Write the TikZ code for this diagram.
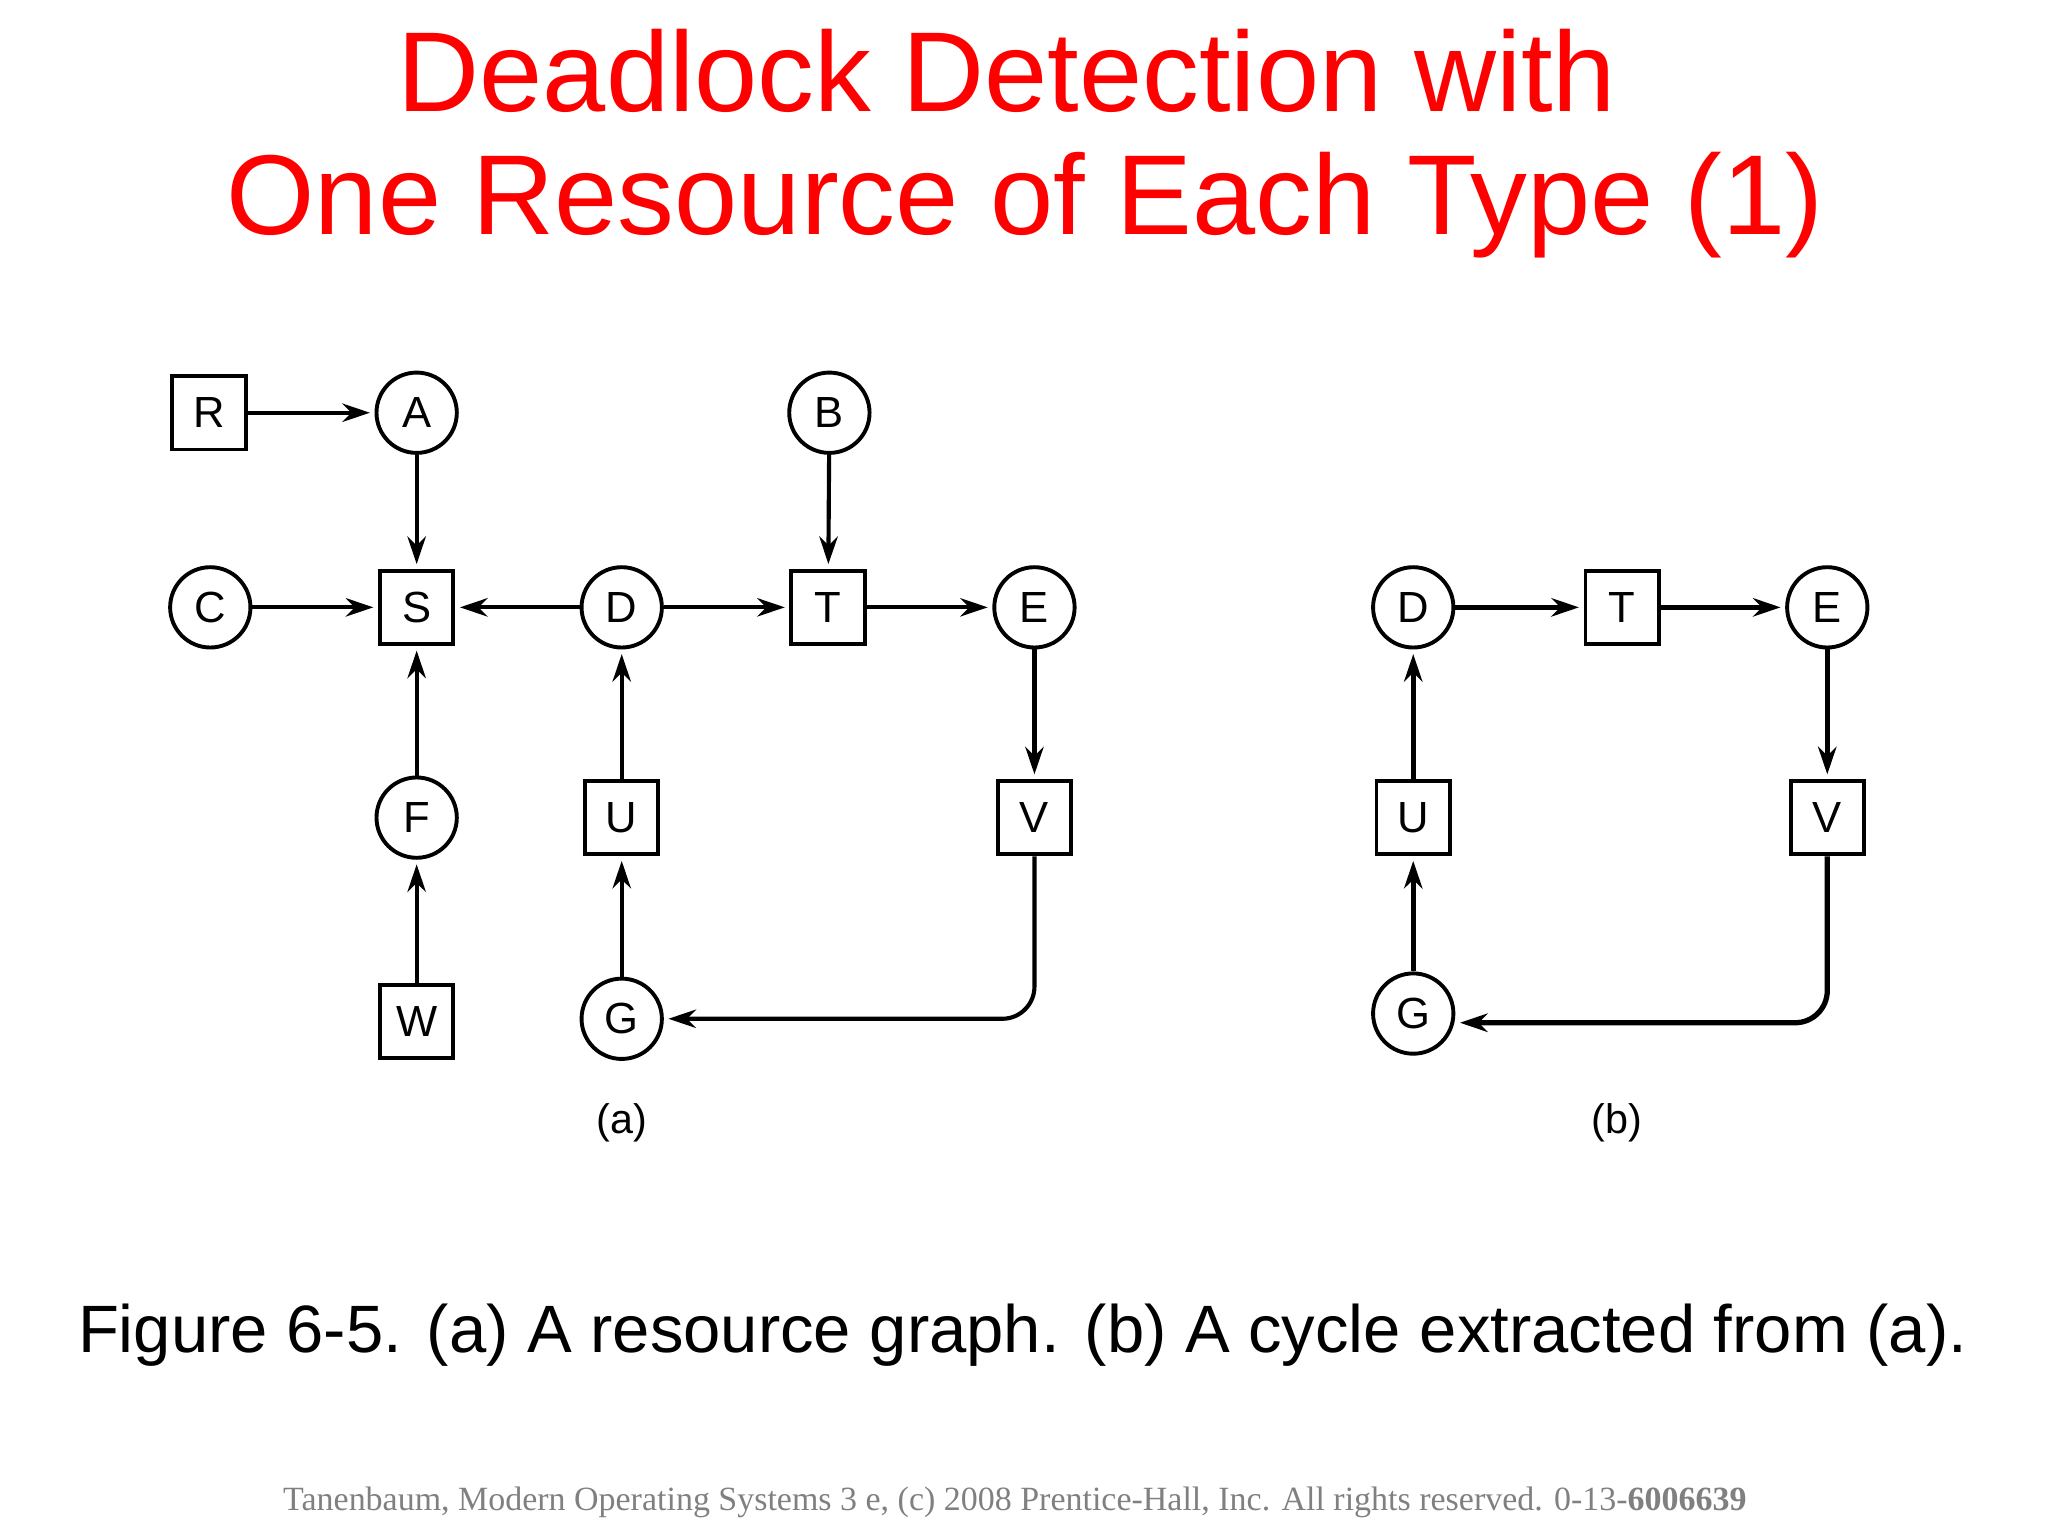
\documentclass[tikz,border=0pt]{standalone}
\usepackage{fontspec}
\setmainfont{Liberation Sans}
\newfontfamily\tnr{Liberation Serif}
\usetikzlibrary{arrows.meta}
\begin{document}
\begin{tikzpicture}[x=0.02cm,y=-0.02cm,
 proc/.style={circle,draw,line width=1.7pt,minimum size=35pt,inner sep=0pt,font=\fontsize{19}{20}\selectfont},
 res/.style={rectangle,draw,line width=1.7pt,minimum size=32pt,inner sep=0pt,font=\fontsize{19}{20}\selectfont},
 e/.style={line width=1.8pt,-{Stealth[length=12pt,width=8pt]},shorten >=2pt},
 lbl/.style={font=\fontsize{18}{20}\selectfont}]
\useasboundingbox (0,0) rectangle (1568,1176);
\node[text=red,font=\fontsize{49.5}{60}\selectfont] (t1) at (771,54) {Deadlock Detection with};
\node[text=red,font=\fontsize{49.5}{60}\selectfont] (t2) at (785,157) {One Resource of Each Type (1)};
% (a)
\node[res] (R) at (160,316) {R};
\node[proc] (A) at (319,316) {A};
\node[proc] (B) at (635,316) {B};
\node[proc] (C) at (161,465) {C};
\node[res] (S) at (319,465) {S};
\node[proc] (D) at (476,465) {D};
\node[res] (T) at (634,465) {T};
\node[proc] (E) at (792,465) {E};
\node[proc] (F) at (319,626) {F};
\node[res] (U) at (476,626) {U};
\node[res] (V) at (792,626) {V};
\node[res] (W) at (319,782) {W};
\node[proc] (G) at (476,780) {G};
\node[lbl] (la) at (476,860) {(a)};
\draw[e] (R)--(A);
\draw[e] (A)--(S);
\draw[e] (C)--(S);
\draw[e] (D)--(S);
\draw[e] (D)--(T);
\draw[e] (B)--(T);
\draw[e] (T)--(E);
\draw[e] (E)--(V);
\draw[e] (F)--(S);
\draw[e] (W)--(F);
\draw[e] (U)--(D);
\draw[e] (G)--(U);
\draw[e,rounded corners=14pt] (V.south) |- (G.east);
% (b)
\node[proc] (D2) at (1082,465) {D};
\node[res] (T2) at (1242,465) {T};
\node[proc] (E2) at (1399,465) {E};
\node[res] (U2) at (1082,626) {U};
\node[res] (V2) at (1399,626) {V};
\node[proc] (G2) at (1082,776) {G};
\node[lbl] (lb) at (1238,860) {(b)};
\begin{scope}[e/.append style={line width=2.3pt}]
\draw[e] (D2)--(T2);
\draw[e] (T2)--(E2);
\draw[e] (E2)--(V2);
\draw[e,rounded corners=14pt] (V2.south) |- ([yshift=-4]G2.east);
\draw[e] (G2)--(U2);
\draw[e] (U2)--(D2);
\end{scope}
\node[font=\fontsize{29.2}{36}\selectfont] (cap) at (783,1022) {Figure 6-5. (a) A resource graph. (b) A cycle extracted from (a).};
\node[text=gray,font=\tnr\fontsize{14.8}{16}\selectfont] (ft) at (777,1150) {Tanenbaum, Modern Operating Systems 3 e, (c) 2008 Prentice-Hall, Inc. All rights reserved. 0-13-\textbf{6006639}};
\end{tikzpicture}
\end{document}
